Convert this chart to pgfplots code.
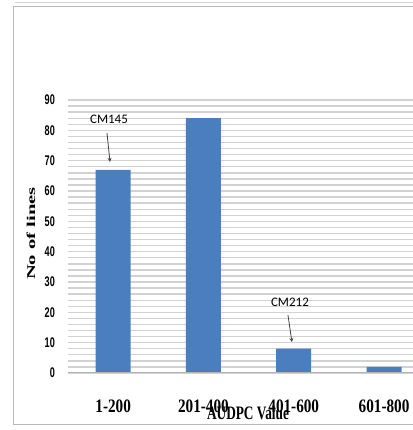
\documentclass[border=0pt]{standalone}
\usepackage{pgfplots}
\pgfplotsset{compat=1.18}
\usepackage{fontspec}
\setmainfont{Liberation Serif}
\setsansfont{Liberation Sans}
\newfontfamily\carlito{Carlito}
\definecolor{barblue}{HTML}{4A7EBE}
\definecolor{gridgray}{HTML}{D2D2D2}
\begin{document}
\begin{tikzpicture}
\clip (0,0) rectangle (413bp,430bp);
\fill[white] (0,0) rectangle (413bp,430bp);
\draw[gray!55, line width=1bp] (13bp,5bp) rectangle (440bp,423bp);
\draw[gray!35, line width=1bp] (15bp,427.5bp) -- (413bp,427.5bp);
\begin{axis}[
  at={(68bp,57bp)}, anchor=south west,
  width=361.2bp, height=273bp, scale only axis,
  xmin=-0.5, xmax=3.5, ymin=0, ymax=90,
  ybar, bar width=35bp,
  xtick={0,1,2,3},
  xticklabels={1-200,201-400,401-600,601-800},
  ytick={0,10,...,90},
  minor y tick num=4,
  ymajorgrids, yminorgrids,
  major grid style={gridgray, line width=1.4bp},
  minor grid style={gridgray, line width=1.4bp},
  major tick length=0pt, minor tick length=0pt,
  axis line style={draw=none},
  /pgf/number format/assume math mode=true,
  yticklabel style={font=\sffamily\bfseries\fontsize{14bp}{14bp}\selectfont, inner sep=0pt, anchor=east, xshift=-13bp, xscale=0.65},
  xticklabel style={font=\bfseries\fontsize{19bp}{19bp}\selectfont, inner sep=0pt, anchor=north, yshift=-27bp, xscale=0.8},
]
\addplot[fill=barblue, draw=none] coordinates {(0,67) (1,84) (2,8) (3,2)};
\draw[gray!60, line width=1bp] (rel axis cs:0,0) -- (rel axis cs:1,0);
\node[font=\carlito\fontsize{13bp}{13bp}\selectfont] at (axis cs:-0.046,83.7) {CM145};
\draw[->, >=stealth, black!75, line width=0.8bp] (axis cs:-0.068,79.1) -- (axis cs:-0.035,69.6);
\node[font=\carlito\fontsize{13bp}{13bp}\selectfont] at (axis cs:1.958,23.4) {CM212};
\draw[->, >=stealth, black!75, line width=0.8bp] (axis cs:1.936,19.1) -- (axis cs:1.98,10.2);
\end{axis}
\node[font=\bfseries\fontsize{19bp}{19bp}\selectfont, xscale=0.7] at (248bp,16.5bp) {AUDPC Value};
\node[rotate=90] at (31bp,196.5bp) {\scalebox{1.72}[1]{\bfseries\fontsize{12bp}{12bp}\selectfont No of lines}};
\end{tikzpicture}
\end{document}
